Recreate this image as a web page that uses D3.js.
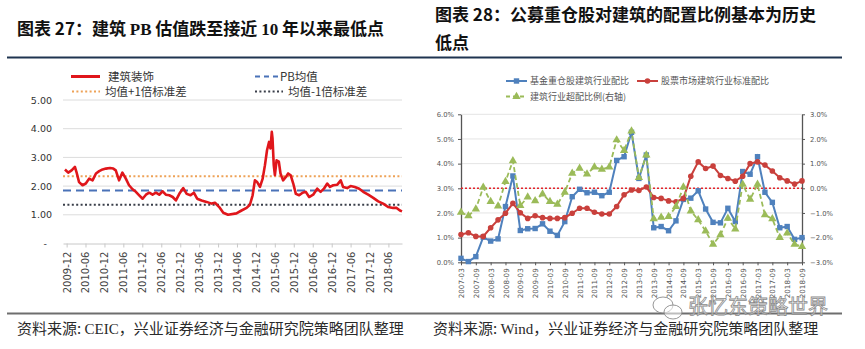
<!DOCTYPE html>
<html><head><meta charset="utf-8">
<script src="https://cdn.jsdelivr.net/npm/d3@7"></script>
<style>body{margin:0;background:#fff} svg{display:block}</style>
</head><body><svg id="c" width="865" height="349"></svg>
<script>
// ---------- Chart 27 data: construction PB ----------
const pbDates = ["2009-11-15","2009-12-16","2010-01-18","2010-02-19","2010-03-06","2010-03-31","2010-05-03","2010-06-04","2010-07-06","2010-08-08","2010-09-10","2010-10-11","2010-11-13","2010-12-15","2011-01-23","2011-02-24","2011-03-20","2011-04-21","2011-05-23","2011-06-25","2011-07-26","2011-08-29","2011-09-30","2011-11-01","2011-12-04","2012-01-05","2012-02-06","2012-03-09","2012-04-10","2012-05-12","2012-06-14","2012-07-15","2012-08-17","2012-09-19","2012-10-20","2012-11-22","2012-12-30","2013-02-01","2013-03-10","2013-04-11","2013-05-13","2013-06-25","2013-08-12","2013-09-30","2013-11-01","2013-12-12","2014-01-20","2014-03-07","2014-05-27","2014-07-15","2014-09-02","2014-10-04","2014-10-30","2014-11-21","2014-12-13","2015-01-09","2015-02-04","2015-02-26","2015-03-18","2015-04-07","2015-04-20","2015-05-03","2015-05-10","2015-05-22","2015-06-02","2015-06-18","2015-07-10","2015-07-26","2015-08-20","2015-09-16","2015-10-08","2015-11-01","2015-11-26","2015-12-21","2016-01-22","2016-02-24","2016-03-26","2016-04-27","2016-06-05","2016-07-14","2016-08-16","2016-09-17","2016-10-19","2016-11-14","2016-12-16","2017-01-24","2017-02-26","2017-03-21","2017-04-29","2017-06-01","2017-07-12","2017-08-23","2017-10-01","2017-11-18","2018-01-06","2018-02-23","2018-04-11","2018-05-29","2018-07-16","2018-08-19","2018-09-20","2018-10-10"];
const pbValues = [2.58,2.47,2.55,2.67,2.49,2.14,2.03,2.09,2.26,2.20,2.44,2.52,2.58,2.61,2.63,2.61,2.55,2.20,2.47,2.26,2.03,1.89,1.80,1.68,1.56,1.70,1.77,1.70,1.77,1.70,1.82,1.70,1.68,1.62,1.50,1.73,1.93,1.73,1.68,1.77,1.56,1.50,1.45,1.39,1.42,1.27,1.07,1.00,1.05,1.15,1.24,1.35,1.68,2.20,2.14,1.97,2.26,2.73,3.25,3.54,3.31,3.89,3.66,2.73,2.38,2.90,2.85,2.44,2.20,2.32,2.44,2.38,2.09,1.73,1.68,1.77,1.80,1.62,1.70,1.91,1.80,1.91,2.09,1.97,2.03,2.05,2.20,1.97,1.93,2.00,1.97,1.91,1.80,1.70,1.59,1.47,1.39,1.27,1.24,1.24,1.15,1.12];
const pbMean = 1.85;
const pbPlus1 = 2.34;
const pbMinus1 = 1.35;
const pbYTicks = [0,1,2,3,4,5];
const pbXTicks = ["2009-12","2010-06","2010-12","2011-06","2011-12","2012-06","2012-12","2013-06","2013-12","2014-06","2014-12","2015-06","2015-12","2016-06","2016-12","2017-06","2017-12","2018-06"];

// ---------- Chart 28 data: fund allocation ----------
const quarters = ["2007-03","2007-06","2007-09","2007-12","2008-03","2008-06","2008-09","2008-12","2009-03","2009-06","2009-09","2009-12","2010-03","2010-06","2010-09","2010-12","2011-03","2011-06","2011-09","2011-12","2012-03","2012-06","2012-09","2012-12","2013-03","2013-06","2013-09","2013-12","2014-03","2014-06","2014-09","2014-12","2015-03","2015-06","2015-09","2015-12","2016-03","2016-06","2016-09","2016-12","2017-03","2017-06","2017-09","2017-12","2018-03","2018-06","2018-09"];
const fundRatio = [0.16,0.03,0.23,1.02,0.86,0.95,2.26,3.50,1.29,1.36,1.37,1.56,1.26,1.09,1.65,2.66,2.96,2.82,2.84,2.70,2.84,4.13,4.28,5.27,3.40,4.35,1.40,1.45,1.28,1.68,2.55,2.60,2.90,2.16,1.62,1.60,2.19,1.65,3.68,3.57,4.28,2.84,2.43,1.40,1.45,0.93,1.00];
const marketRatio = [1.13,1.20,1.05,1.05,1.40,1.72,1.99,2.39,2.01,1.78,1.89,1.81,1.78,1.78,1.81,1.99,2.19,2.19,2.03,1.96,1.96,2.26,2.74,2.93,2.91,3.05,2.63,2.59,2.49,2.45,2.59,3.49,4.07,3.80,3.90,3.52,3.40,3.29,3.49,4.00,4.07,3.94,3.70,3.43,3.30,3.17,3.30];
const excessRatio = [-0.97,-1.12,-0.84,0.04,-0.54,-0.72,0.27,1.11,-0.70,-0.36,-0.51,-0.23,-0.54,-0.65,-0.16,0.61,0.81,0.58,0.86,0.77,0.86,1.96,1.53,2.32,0.43,1.35,-1.24,-1.18,-1.15,-0.74,0.05,-0.92,-1.28,-1.73,-2.27,-1.89,-1.22,-1.65,0.16,-0.45,0.16,-1.08,-1.24,-2.00,-1.82,-2.27,-2.36];
const leftPctTicks = [0,1,2,3,4,5,6];
const rightPctTicks = [-3,-2,-1,0,1,2,3];

// ---------- drawing ----------
const CJK = "'Noto Sans CJK SC', sans-serif";
const NUM = "'DejaVu Sans', sans-serif";
const SERIF = "'Liberation Serif', serif";
const svg = d3.select("#c");
svg.append("rect").attr("width",865).attr("height",349).attr("fill","#fff");

// Titles
function richText(g, x, y, parts, size){
  const t = g.append("text").attr("x",x).attr("y",y).attr("font-size",size)
    .attr("font-weight","bold").attr("fill","#111");
  parts.forEach(p => t.append("tspan").attr("font-family", p[1]).text(p[0]));
  return t;
}
richText(svg, 17, 35, [["图表 27：建筑 ",CJK],["PB",SERIF],[" 估值跌至接近 ",CJK],["10",SERIF],[" 年以来最低点",CJK]], 17);
richText(svg, 435, 21, [["图表 28：公募重仓股对建筑的配置比例基本为历史",CJK]], 17);
richText(svg, 435, 49, [["低点",CJK]], 17);

svg.append("line").attr("x1",7).attr("x2",842).attr("y1",57.5).attr("y2",57.5)
  .attr("stroke","#1f3450").attr("stroke-width",2);

// ===== Left chart =====
const parseD = d3.timeParse("%Y-%m-%d");
const parseM = d3.timeParse("%Y-%m");
const xL = d3.scaleTime().domain([parseD("2009-10-27"), parseD("2018-10-10")]).range([63, 402]);
const yL = d3.scaleLinear().domain([0,5]).range([243.5, 100]);
const gL = svg.append("g");

gL.selectAll("line.grid").data(pbYTicks.filter(d=>d>0)).join("line")
  .attr("x1",63).attr("x2",402).attr("y1",d=>yL(d)).attr("y2",d=>yL(d))
  .attr("stroke","#dcdcdc").attr("stroke-width",1);

const yAxL = gL.append("g").attr("transform","translate(63,0)")
  .call(d3.axisLeft(yL).tickValues(pbYTicks).tickSize(0).tickPadding(11)
    .tickFormat(d => d === 0 ? "-" : d3.format(".2f")(d)));
yAxL.select(".domain").remove();
yAxL.selectAll("text").attr("font-family",NUM).attr("font-size",9.5).attr("fill","#333");
yAxL.selectAll(".tick").filter(d=>d===0).select("text").attr("x",-16);

const xAxL = gL.append("g").attr("transform",`translate(0,${yL(0)})`)
  .call(d3.axisBottom(xL).tickValues(pbXTicks.map(parseM)).tickSize(4).tickSizeOuter(0)
    .tickFormat(d3.timeFormat("%Y-%m")));
xAxL.select(".domain").attr("stroke","#c8c8c8");
xAxL.selectAll(".tick line").attr("stroke","#c8c8c8");
xAxL.selectAll("text").attr("font-family",NUM).attr("font-size",10).attr("fill","#444")
  .attr("transform","rotate(-90)").attr("text-anchor","end").attr("x",-8).attr("y",0).attr("dy","0.35em");

function hline(g, v, color, dash){
  g.append("line").attr("x1",63).attr("x2",402).attr("y1",yL(v)).attr("y2",yL(v))
    .attr("stroke",color).attr("stroke-width",2).attr("stroke-dasharray",dash);
}
hline(gL, pbPlus1, "#eea257", "2,2.4");
hline(gL, pbMean, "#4a72b8", "8,5");
hline(gL, pbMinus1, "#3a3f4a", "2,2.4");

const pbData = pbDates.map((d,i)=>({d:parseD(d), v:pbValues[i]}));
gL.append("path").datum(pbData)
  .attr("d", d3.line().x(p=>xL(p.d)).y(p=>yL(p.v)))
  .attr("fill","none").attr("stroke","#e0161b").attr("stroke-width",2.6).attr("stroke-linejoin","round");

// Left legend
const lg = svg.append("g").attr("font-family",CJK).attr("font-size",11.5).attr("fill","#333");
lg.append("line").attr("x1",71).attr("x2",100).attr("y1",76.5).attr("y2",76.5).attr("stroke","#e0161b").attr("stroke-width",3);
lg.append("text").attr("x",108).attr("y",76.5).attr("dy","0.35em").text("建筑装饰");
lg.append("line").attr("x1",255).attr("x2",279).attr("y1",76.5).attr("y2",76.5).attr("stroke","#4a72b8").attr("stroke-width",2).attr("stroke-dasharray","5,4");
lg.append("text").attr("x",280).attr("y",76.5).attr("dy","0.35em").text("PB均值");
lg.append("line").attr("x1",72).attr("x2",100).attr("y1",91.5).attr("y2",91.5).attr("stroke","#eea257").attr("stroke-width",2).attr("stroke-dasharray","2,2.4");
lg.append("text").attr("x",105).attr("y",91.5).attr("dy","0.35em").text("均值+1倍标准差");
lg.append("line").attr("x1",255).attr("x2",283).attr("y1",91.5).attr("y2",91.5).attr("stroke","#3a3f4a").attr("stroke-width",2).attr("stroke-dasharray","2,2.4");
lg.append("text").attr("x",288).attr("y",91.5).attr("dy","0.35em").text("均值-1倍标准差");

// ===== Right chart =====
const xR = d3.scalePoint().domain(quarters).range([461, 802]);
const yR1 = d3.scaleLinear().domain([0,6]).range([262.3, 114.3]);
const yR2 = d3.scaleLinear().domain([-3,3]).range([262.3, 114.3]);
const gR = svg.append("g");

gR.selectAll("line.grid").data(leftPctTicks.filter(d=>d>0)).join("line")
  .attr("x1",461).attr("x2",802).attr("y1",d=>yR1(d)).attr("y2",d=>yR1(d))
  .attr("stroke","#e4e4e4").attr("stroke-width",1);

const pctFmt = d => d3.format(".1f")(d) + "%";
const axL = gR.append("g").attr("transform","translate(461,0)")
  .call(d3.axisLeft(yR1).tickValues(leftPctTicks).tickSize(3).tickSizeOuter(0).tickPadding(4).tickFormat(pctFmt));
const axR = gR.append("g").attr("transform","translate(802,0)")
  .call(d3.axisRight(yR2).tickValues(rightPctTicks).tickSize(3).tickSizeOuter(0).tickPadding(5).tickFormat(pctFmt));
const axB = gR.append("g").attr("transform",`translate(0,${yR1(0)})`)
  .call(d3.axisBottom(xR).tickValues(quarters.filter((d,i)=>i%2===0)).tickSize(3).tickSizeOuter(0));
[axL,axR,axB].forEach(a=>{
  a.select(".domain").attr("stroke","#555").attr("stroke-width",1.3);
  a.selectAll(".tick line").attr("stroke","#555");
  a.selectAll("text").attr("font-family",NUM).attr("font-size",6.8).attr("fill","#555");
});
axB.selectAll("text").attr("transform","rotate(-90)").attr("text-anchor","end")
  .attr("x",-6).attr("y",0).attr("dy","0.35em").attr("font-size",7.2);

// zero line of excess ratio (red dotted)
gR.append("line").attr("x1",461).attr("x2",802).attr("y1",yR2(0)).attr("y2",yR2(0))
  .attr("stroke","#e3242b").attr("stroke-width",1.5).attr("stroke-dasharray","2,2");

const fundData = quarters.map((q,i)=>({q, v:fundRatio[i]}));
const mktData = quarters.map((q,i)=>({q, v:marketRatio[i]}));
const excData = quarters.map((q,i)=>({q, v:excessRatio[i]}));

const BLUE="#4f81bd", RED="#c9403c", GREEN="#9bbb59";
gR.append("path").datum(fundData).attr("d", d3.line().x(p=>xR(p.q)).y(p=>yR1(p.v)))
  .attr("fill","none").attr("stroke",BLUE).attr("stroke-width",2);
gR.selectAll("rect.fund").data(fundData).join("rect")
  .attr("x",p=>xR(p.q)-2.7).attr("y",p=>yR1(p.v)-2.7).attr("width",5.4).attr("height",5.4).attr("fill",BLUE);

gR.append("path").datum(mktData).attr("d", d3.line().x(p=>xR(p.q)).y(p=>yR1(p.v)))
  .attr("fill","none").attr("stroke",RED).attr("stroke-width",2);
gR.selectAll("circle.mkt").data(mktData).join("circle")
  .attr("cx",p=>xR(p.q)).attr("cy",p=>yR1(p.v)).attr("r",2.8).attr("fill",RED);

gR.append("path").datum(excData).attr("d", d3.line().x(p=>xR(p.q)).y(p=>yR2(p.v)))
  .attr("fill","none").attr("stroke",GREEN).attr("stroke-width",1.8).attr("stroke-dasharray","5,3");
const tri = d3.symbol().type(d3.symbolTriangle).size(30);
gR.selectAll("path.exc").data(excData).join("path")
  .attr("transform",p=>`translate(${xR(p.q)},${yR2(p.v)})`).attr("d",tri).attr("fill",GREEN);

// Right legend
const rl = svg.append("g").attr("font-family",CJK).attr("font-size",9).attr("fill","#555");
rl.append("line").attr("x1",506).attr("x2",527).attr("y1",81).attr("y2",81).attr("stroke",BLUE).attr("stroke-width",2);
rl.append("rect").attr("x",513.8).attr("y",78.3).attr("width",5.4).attr("height",5.4).attr("fill",BLUE);
rl.append("text").attr("x",530).attr("y",81).attr("dy","0.35em").text("基金重仓股建筑行业配比");
rl.append("line").attr("x1",637).attr("x2",658).attr("y1",81).attr("y2",81).attr("stroke",RED).attr("stroke-width",2);
rl.append("circle").attr("cx",647.5).attr("cy",81).attr("r",2.8).attr("fill",RED);
rl.append("text").attr("x",661).attr("y",81).attr("dy","0.35em").text("股票市场建筑行业标准配比");
rl.append("line").attr("x1",506).attr("x2",527).attr("y1",96.5).attr("y2",96.5).attr("stroke",GREEN).attr("stroke-width",1.8).attr("stroke-dasharray","4,3");
rl.append("path").attr("transform","translate(516.5,96.5)").attr("d",tri).attr("fill",GREEN);
rl.append("text").attr("x",530).attr("y",96.5).attr("dy","0.35em").text("建筑行业超配比例(右轴)");

// Bottom rule and sources
svg.append("line").attr("x1",7).attr("x2",842).attr("y1",313.5).attr("y2",313.5)
  .attr("stroke","#6e6e6e").attr("stroke-width",2);
function source(x, name){
  const t = svg.append("text").attr("x",x).attr("y",334).attr("font-size",15).attr("fill","#2a2a2a");
  t.append("tspan").attr("font-family",CJK).text("资料来源: ");
  t.append("tspan").attr("font-family",SERIF).text(name);
  t.append("tspan").attr("font-family",CJK).text("，兴业证券经济与金融研究院策略团队整理");
}
source(17, "CEIC");
source(433, "Wind");

// Watermark
const wm = svg.append("g").attr("fill","rgba(255,255,255,0.55)").attr("stroke","#8a8a8a").attr("stroke-width",0.9);
wm.append("ellipse").attr("cx",663).attr("cy",305).attr("rx",10).attr("ry",8);
wm.append("ellipse").attr("cx",673).attr("cy",312).attr("rx",9).attr("ry",7);
wm.append("text").attr("x",688).attr("y",314).attr("font-family",CJK).attr("font-size",20)
  .attr("stroke-width",0.8).text("张忆东策略世界");
</script></body></html>
